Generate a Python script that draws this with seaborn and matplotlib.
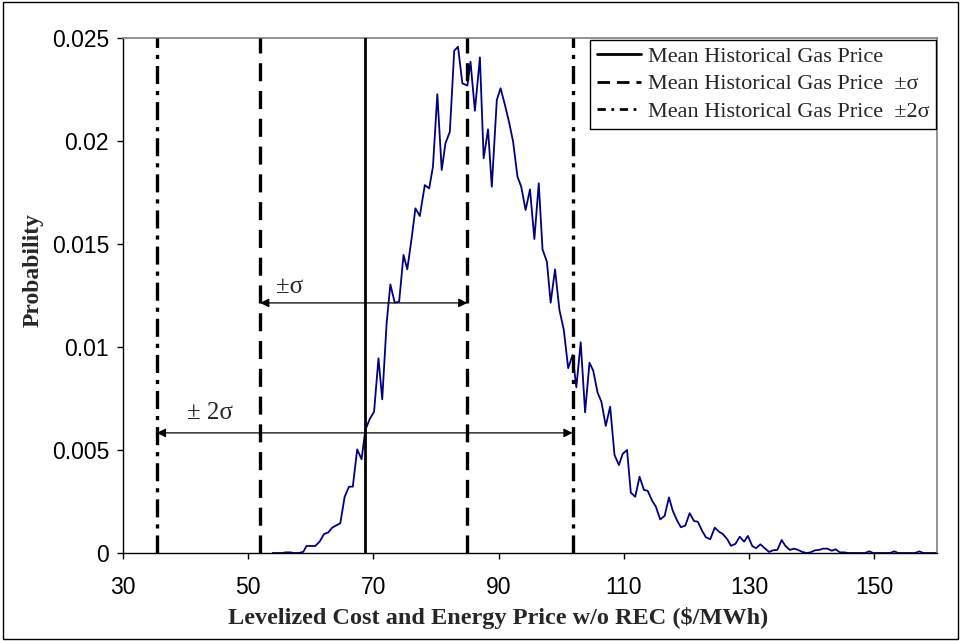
import matplotlib
matplotlib.use("Agg")
import matplotlib.pyplot as plt
from matplotlib.lines import Line2D
from matplotlib.patches import Rectangle
import seaborn as sns
import pandas as pd

# ---- data -------------------------------------------------------------
price = [
    53.9, 54.6, 55.4, 56.0, 56.7, 57.3, 58.1, 58.8, 59.3, 60.0,
    60.7, 61.4, 62.1, 62.8, 63.4, 64.0, 64.7, 65.4, 66.1, 66.7,
    67.4, 68.1, 68.7, 69.4, 70.1, 70.8, 71.4, 72.1, 72.7, 73.4,
    74.1, 74.8, 75.4, 76.1, 76.7, 77.4, 78.2, 78.9, 79.5, 80.2,
    80.9, 81.5, 82.2, 82.9, 83.5, 84.2, 85.0, 85.5, 86.2, 87.0,
    87.6, 88.3, 88.9, 89.7, 90.3, 91.0, 91.7, 92.3, 93.0, 93.6,
    94.3, 95.0, 95.7, 96.4, 97.0, 97.7, 98.3, 99.0, 99.7, 100.4,
    101.1, 101.8, 102.4, 103.1, 103.8, 104.5, 105.1, 105.8, 106.4, 107.1,
    107.8, 108.5, 109.2, 109.8, 110.5, 111.1, 111.8, 112.5, 113.2, 113.8,
    114.5, 115.1, 115.8, 116.5, 117.2, 117.8, 118.5, 119.1, 119.8, 120.5,
    121.2, 121.8, 122.5, 123.1, 123.8, 124.5, 125.2, 125.8, 126.5, 127.1,
    127.8, 128.5, 129.2, 129.8, 130.5, 131.1, 131.8, 132.5, 133.2, 133.8,
    134.5, 135.2, 135.8, 136.5, 137.2, 137.8, 138.5, 139.2, 139.8, 140.5,
    141.2, 141.8, 142.5, 143.2, 143.8, 144.5, 145.2, 145.8, 146.5, 147.2,
    147.8, 148.5, 149.2, 149.8, 150.5, 151.2, 151.8, 152.5, 153.2, 153.8,
    154.5, 155.2, 155.8, 156.5, 157.2, 157.8, 158.5, 159.2, 159.8, 160.4,
]
probability = [
    0.0, 0.0, 0.0, 0.00003, 0.00003, 0.0, 0.0, 0.00006, 0.00034, 0.00034,
    0.00034, 0.00055, 0.00092, 0.00100, 0.00123, 0.00133, 0.00144, 0.00273, 0.00322, 0.00322,
    0.00503, 0.00455, 0.00597, 0.00650, 0.00686, 0.00945, 0.00746, 0.01115, 0.01304, 0.01215,
    0.01220, 0.01447, 0.01377, 0.01528, 0.01673, 0.01636, 0.01786, 0.01770, 0.01875, 0.02227,
    0.01859, 0.01989, 0.02045, 0.02438, 0.02458, 0.02280, 0.02269, 0.02385, 0.02147, 0.02406,
    0.01916, 0.02057, 0.01778, 0.02199, 0.02256, 0.02175, 0.02086, 0.01997, 0.01827, 0.01778,
    0.01665, 0.01765, 0.01524, 0.01795, 0.01474, 0.01414, 0.01215, 0.01377, 0.01180, 0.01083,
    0.00897, 0.00961, 0.00804, 0.01023, 0.00683, 0.00924, 0.00885, 0.00778, 0.00735, 0.00617,
    0.00710, 0.00476, 0.00427, 0.00481, 0.00500, 0.00293, 0.00273, 0.00370, 0.00306, 0.00302,
    0.00254, 0.00225, 0.00163, 0.00180, 0.00270, 0.00205, 0.00157, 0.00125, 0.00133, 0.00193,
    0.00155, 0.00152, 0.00107, 0.00076, 0.00067, 0.00123, 0.00103, 0.00092, 0.00067, 0.00035,
    0.00044, 0.00079, 0.00055, 0.00083, 0.00034, 0.00023, 0.00042, 0.00023, 0.00005, 0.00013,
    0.00015, 0.00063, 0.00034, 0.00015, 0.00021, 0.00015, 0.00005, 0.0, 0.00003, 0.00013,
    0.00015, 0.00021, 0.00021, 0.00011, 0.00018, 0.00003, 0.00003, 0.0, 0.0, 0.0,
    0.0, 0.0, 0.00008, 0.0, 0.0, 0.0, 0.0, 0.0, 0.00008, 0.0,
    0.0, 0.0, 0.0, 0.0, 0.00008, 0.0, 0.0, 0.0, 0.0, 0.0,
]

mean_line = 68.6
sigma_lines = [51.9, 85.0]
two_sigma_lines = [35.4, 101.8]
sigma_arrow_y = 0.01214
two_sigma_arrow_y = 0.00583

x_ticks = [30, 50, 70, 90, 110, 130, 150]
y_ticks = [0, 0.005, 0.01, 0.015, 0.02, 0.025]
y_tick_labels = ["0", "0.005", "0.01", "0.015", "0.02", "0.025"]

legend_labels = [
    "Mean Historical Gas Price",
    "Mean Historical Gas Price  \u00b1\u03c3",
    "Mean Historical Gas Price  \u00b12\u03c3",
]

# ---- styling -----------------------------------------------------------
sns.set_style("ticks")
plt.rcParams["font.family"] = ["Liberation Sans", "DejaVu Sans"]
plt.rcParams["lines.scale_dashes"] = False
serif = ["Liberation Serif", "DejaVu Serif"]

fig = plt.figure(figsize=(9.61, 6.41), dpi=100)
ax = fig.add_axes([0.128, 0.1373, 0.847, 0.8034])

df = pd.DataFrame({"price": price, "probability": probability})
sns.lineplot(data=df, x="price", y="probability", ax=ax,
             color="#000080", linewidth=1.3, legend=False)

dash = (0, (13, 7))
dashdot = (0, (13, 5, 3, 5))
ax.axvline(mean_line, color="black", lw=2.0, ls="-", zorder=3)
for v in sigma_lines:
    ax.axvline(v, color="black", lw=2.4, ls=dash, zorder=3)
for v in two_sigma_lines:
    ax.axvline(v, color="black", lw=2.4, ls=dashdot, zorder=3)

arrow_kw = dict(arrowstyle="<|-|>", color="black", lw=0.9,
                mutation_scale=13, shrinkA=0, shrinkB=0)
ax.annotate("", xy=(sigma_lines[1], sigma_arrow_y),
            xytext=(sigma_lines[0], sigma_arrow_y), arrowprops=arrow_kw)
ax.annotate("", xy=(two_sigma_lines[1], two_sigma_arrow_y),
            xytext=(two_sigma_lines[0], two_sigma_arrow_y), arrowprops=arrow_kw)
ax.text(56.6, 0.0129, "\u00b1\u03c3", family=serif, fontsize=18,
        ha="center", va="center")
ax.text(43.9, 0.0068, "\u00b1 2\u03c3", family=serif, fontsize=18,
        ha="center", va="center")

ax.set_xlim(30, 160)
ax.set_ylim(0, 0.025)
ax.set_xticks(x_ticks)
ax.set_xticklabels([str(t) for t in x_ticks])
ax.set_yticks(y_ticks)
ax.set_yticklabels(y_tick_labels)
ax.tick_params(axis="both", direction="out", length=4, width=1,
               labelsize=16.5, colors="black")
ax.tick_params(axis="x", pad=12.5)
ax.tick_params(axis="y", pad=6)

for s in ["left", "bottom"]:
    ax.spines[s].set_color("black")
    ax.spines[s].set_linewidth(1.0)
for s in ["top", "right"]:
    ax.spines[s].set_visible(True)
    ax.spines[s].set_color("#808080")
    ax.spines[s].set_linewidth(1.2)

ax.set_xlabel("Levelized Cost and Energy Price w/o REC (\\$/MWh)",
              family=serif, fontweight="bold", fontsize=17.5)
ax.xaxis.set_label_coords(0.461, -0.105)
ax.set_ylabel("Probability", family=serif, fontweight="bold", fontsize=17)
ax.yaxis.set_label_coords(-0.097, 0.55)

handles = [
    Line2D([], [], color="black", lw=2.0, ls="-"),
    Line2D([], [], color="black", lw=2.0, ls=(0, (9, 5))),
    Line2D([], [], color="black", lw=2.0, ls=(0, (6, 4, 2, 4))),
]
leg = ax.legend(handles, legend_labels, loc="upper right",
                bbox_to_anchor=(0.999, 0.997), prop={"family": serif, "size": 16},
                frameon=True, fancybox=False, framealpha=1, edgecolor="black",
                handlelength=2.0, handletextpad=0.3, borderpad=0.3,
                labelspacing=0.32, borderaxespad=0)
leg.get_frame().set_linewidth(1.0)

fig.patches.append(Rectangle((0.003, 0.003), 0.994, 0.994, transform=fig.transFigure,
                             fill=False, edgecolor="black", lw=1.0))

fig.savefig("out.png", dpi=100)
